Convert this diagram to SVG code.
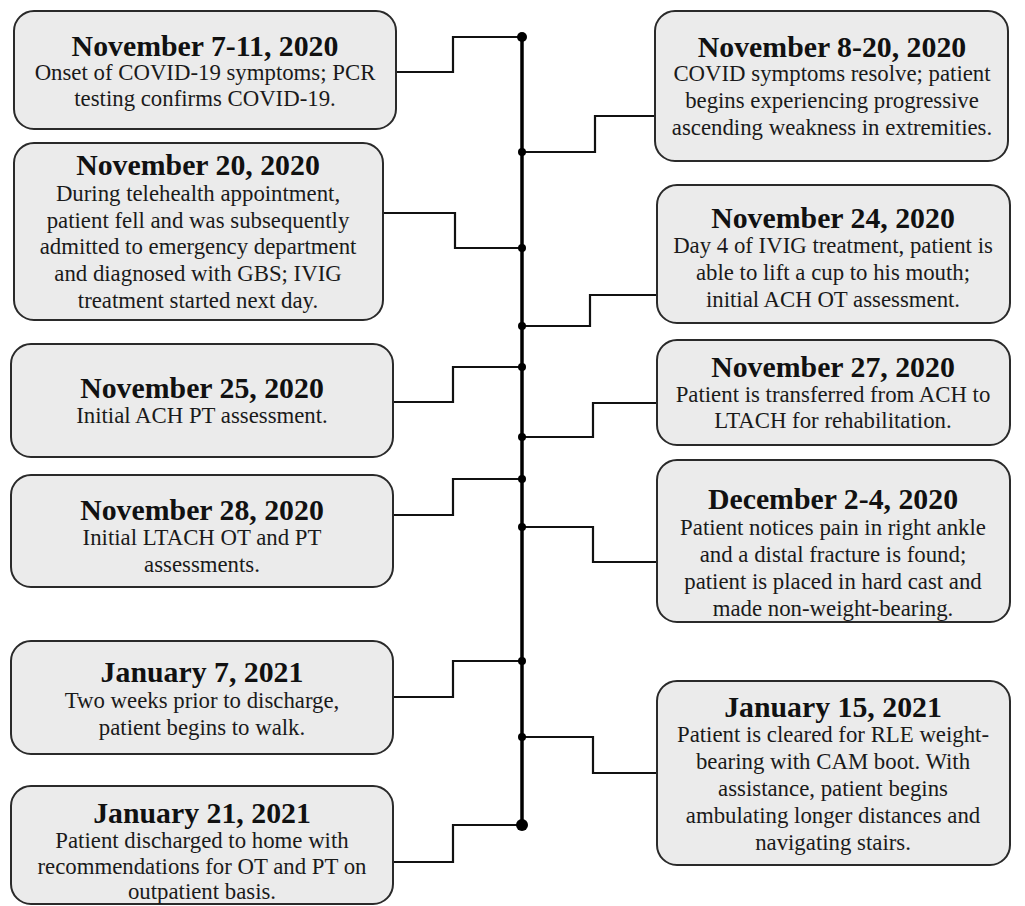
<svg xmlns="http://www.w3.org/2000/svg" width="1025" height="906" viewBox="0 0 1025 906">
<style>
.box{fill:#ebebeb;stroke:#2a2a2a;stroke-width:2}
.t{font-family:"Liberation Serif","Times New Roman",serif;font-weight:bold;font-size:29.8px;fill:#111;text-anchor:middle}
.b{font-family:"Liberation Serif","Times New Roman",serif;font-size:22.8px;fill:#1a1a1a;text-anchor:middle}
.c{fill:none;stroke:#111;stroke-width:2.2}
.sp{fill:none;stroke:#000;stroke-width:3.5}
.d{fill:#000}
</style>
<rect width="1025" height="906" fill="#fff"/>
<g id="connectors">
<line class="sp" x1="522" y1="37" x2="522" y2="825"/>
<polyline class="c" points="396,72 453,72 453,37 522,37"/>
<polyline class="c" points="383,213 455,213 455,248 522,248"/>
<polyline class="c" points="393,402 453,402 453,367 522,367"/>
<polyline class="c" points="393,515 453,515 453,479 522,479"/>
<polyline class="c" points="393,697 453,697 453,661 522,661"/>
<polyline class="c" points="393,862 453,862 453,825 522,825"/>
<polyline class="c" points="522,152 595,152 595,116 655,116"/>
<polyline class="c" points="522,326 590,326 590,295 657,295"/>
<polyline class="c" points="522,437 593,437 593,403 657,403"/>
<polyline class="c" points="522,527 593,527 593,562 657,562"/>
<polyline class="c" points="522,737 593,737 593,773 657,773"/>
<circle class="d" cx="522" cy="37" r="5"/>
<circle class="d" cx="522" cy="152" r="4"/>
<circle class="d" cx="522" cy="248" r="4"/>
<circle class="d" cx="522" cy="326" r="4"/>
<circle class="d" cx="522" cy="367" r="4"/>
<circle class="d" cx="522" cy="437" r="4"/>
<circle class="d" cx="522" cy="479" r="4"/>
<circle class="d" cx="522" cy="527" r="4"/>
<circle class="d" cx="522" cy="661" r="4"/>
<circle class="d" cx="522" cy="737" r="4"/>
<circle class="d" cx="522" cy="825" r="6"/>
</g>
<g id="n1">
<rect class="box" x="14" y="11" width="382" height="118" rx="20"/>
<text class="t" x="205" y="56">November 7-11, 2020</text>
<text class="b" x="205" y="80">Onset of COVID-19 symptoms; PCR</text>
<text class="b" x="205" y="106">testing confirms COVID-19.</text>
</g>
<g id="n2">
<rect class="box" x="14" y="143" width="369" height="177" rx="20"/>
<text class="t" x="198" y="175">November 20, 2020</text>
<text class="b" x="198" y="201">During telehealth appointment,</text>
<text class="b" x="198" y="228">patient fell and was subsequently</text>
<text class="b" x="198" y="254">admitted to emergency department</text>
<text class="b" x="198" y="281">and diagnosed with GBS; IVIG</text>
<text class="b" x="198" y="308">treatment started next day.</text>
</g>
<g id="n3">
<rect class="box" x="11" y="344" width="382" height="113" rx="20"/>
<text class="t" x="202" y="398">November 25, 2020</text>
<text class="b" x="202" y="423">Initial ACH PT assessment.</text>
</g>
<g id="n4">
<rect class="box" x="11" y="475" width="382" height="112" rx="20"/>
<text class="t" x="202" y="520">November 28, 2020</text>
<text class="b" x="202" y="545">Initial LTACH OT and PT</text>
<text class="b" x="202" y="572">assessments.</text>
</g>
<g id="n5">
<rect class="box" x="11" y="641" width="382" height="113" rx="20"/>
<text class="t" x="202" y="682">January 7, 2021</text>
<text class="b" x="202" y="708">Two weeks prior to discharge,</text>
<text class="b" x="202" y="735">patient begins to walk.</text>
</g>
<g id="n6">
<rect class="box" x="11" y="786" width="382" height="118" rx="20"/>
<text class="t" x="202" y="823">January 21, 2021</text>
<text class="b" x="202" y="848">Patient discharged to home with</text>
<text class="b" x="202" y="874">recommendations for OT and PT on</text>
<text class="b" x="202" y="899">outpatient basis.</text>
</g>
<g id="n7">
<rect class="box" x="655" y="11" width="353" height="150" rx="20"/>
<text class="t" x="832" y="57">November 8-20, 2020</text>
<text class="b" x="832" y="81">COVID symptoms resolve; patient</text>
<text class="b" x="832" y="108">begins experiencing progressive</text>
<text class="b" x="832" y="135">ascending weakness in extremities.</text>
</g>
<g id="n8">
<rect class="box" x="657" y="185" width="353" height="138" rx="20"/>
<text class="t" x="833" y="228">November 24, 2020</text>
<text class="b" x="833" y="253">Day 4 of IVIG treatment, patient is</text>
<text class="b" x="833" y="280">able to lift a cup to his mouth;</text>
<text class="b" x="833" y="307">initial ACH OT assessment.</text>
</g>
<g id="n9">
<rect class="box" x="657" y="340" width="353" height="105" rx="20"/>
<text class="t" x="833" y="377">November 27, 2020</text>
<text class="b" x="833" y="402">Patient is transferred from ACH to</text>
<text class="b" x="833" y="428">LTACH for rehabilitation.</text>
</g>
<g id="n10">
<rect class="box" x="657" y="460" width="353" height="162" rx="20"/>
<text class="t" x="833" y="509">December 2-4, 2020</text>
<text class="b" x="833" y="535">Patient notices pain in right ankle</text>
<text class="b" x="833" y="562">and a distal fracture is found;</text>
<text class="b" x="833" y="589">patient is placed in hard cast and</text>
<text class="b" x="833" y="616">made non-weight-bearing.</text>
</g>
<g id="n11">
<rect class="box" x="657" y="681" width="353" height="184" rx="20"/>
<text class="t" x="833" y="717">January 15, 2021</text>
<text class="b" x="833" y="742">Patient is cleared for RLE weight-</text>
<text class="b" x="833" y="769">bearing with CAM boot. With</text>
<text class="b" x="833" y="796">assistance, patient begins</text>
<text class="b" x="833" y="823">ambulating longer distances and</text>
<text class="b" x="833" y="850">navigating stairs.</text>
</g>
</svg>
